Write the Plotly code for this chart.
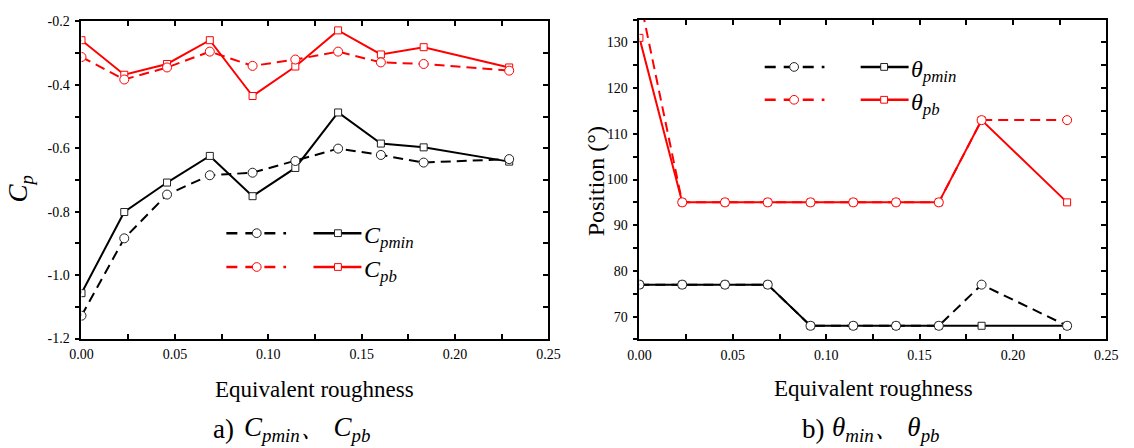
import plotly.graph_objects as go

W, H = 1134, 448

# ---------------- data ----------------
roughness = [0, 0.0229, 0.0458, 0.0687, 0.0916, 0.1145, 0.1374, 0.1603, 0.1832, 0.229]

cpmin_solid = [-1.057, -0.801, -0.708, -0.624, -0.751, -0.662, -0.487, -0.585, -0.597, -0.642]
cpmin_dash = [-1.128, -0.884, -0.746, -0.685, -0.677, -0.640, -0.601, -0.621, -0.645, -0.634]
cpb_solid = [-0.259, -0.368, -0.334, -0.259, -0.435, -0.342, -0.228, -0.304, -0.281, -0.345]
cpb_dash = [-0.312, -0.383, -0.345, -0.295, -0.340, -0.320, -0.295, -0.329, -0.334, -0.355]

thmin_solid = [77, 77, 77, 77, 68, 68, 68, 68, 68, 68]
thmin_dash = [77, 77, 77, 77, 68, 68, 68, 68, 77, 68]
thpb_solid = [131, 95, 95, 95, 95, 95, 95, 95, 113, 95]
thpb_dash = [140, 95, 95, 95, 95, 95, 95, 95, 113, 113]

x_ticks = [0, 0.05, 0.10, 0.15, 0.20, 0.25]
x_ticklabels = ["0.00", "0.05", "0.10", "0.15", "0.20", "0.25"]
cp_ticks = [-1.2, -1.0, -0.8, -0.6, -0.4, -0.2]
cp_ticklabels = ["-1.2", "-1.0", "-0.8", "-0.6", "-0.4", "-0.2"]
th_ticks = [70, 80, 90, 100, 110, 120, 130]

RED = "#ff0000"
BLK = "#000000"
FONT = "Liberation Serif"


def px(x):
    return x / W


def py(y):
    return 1 - y / H


fig = go.Figure()


def add_series(xa, ya, xs, ys, color, dashed, symbol, size):
    fig.add_trace(go.Scatter(
        x=xs, y=ys, xaxis=xa, yaxis=ya, mode="lines+markers",
        line=dict(color=color, width=2, dash="10px,6px" if dashed else "solid"),
        marker=dict(symbol=symbol, size=size, color="white",
                    line=dict(color=color if color == RED else "#222222", width=1)),
        showlegend=False, cliponaxis=True,
    ))


add_series("x", "y", roughness, cpmin_solid, BLK, False, "square", 7)
add_series("x", "y", roughness, cpmin_dash, BLK, True, "circle", 9)
add_series("x", "y", roughness, cpb_solid, RED, False, "square", 7)
add_series("x", "y", roughness, cpb_dash, RED, True, "circle", 9)

add_series("x2", "y2", roughness, thmin_solid, BLK, False, "square", 7)
add_series("x2", "y2", roughness, thmin_dash, BLK, True, "circle", 9)
add_series("x2", "y2", roughness, thpb_solid, RED, False, "square", 7)
add_series("x2", "y2", roughness, thpb_dash, RED, True, "circle", 9)

# domains from pixel positions
L_dom_x = [px(71), px(548)]
L_dom_y = [py(343), py(15)]
R_dom_x = [px(641), px(1118)]
R_dom_y = [py(344), py(13)]

tickfont = dict(family=FONT, size=14, color="black")

xcommon = dict(range=[0, 0.25], tickvals=x_ticks, ticktext=x_ticklabels,
               ticks="inside", ticklen=5, tickwidth=1.5, tickcolor="black",
               showline=True, linewidth=2, linecolor="black", mirror="ticks",
               showgrid=False, zeroline=False, tickfont=tickfont,
               ticklabelstandoff=2,
               minor=dict(dtick=0.025, ticks="inside", ticklen=5, tickwidth=1.5,
                          tickcolor="black", showgrid=False))

ycommon = dict(ticks="outside", ticklen=4, tickwidth=1.5, tickcolor="black",
               showline=True, linewidth=2, linecolor="black", mirror=False,
               showgrid=False, zeroline=False, tickfont=tickfont,
               ticklabelstandoff=3)

fig.update_layout(
    width=W, height=H, margin=dict(l=0, r=0, t=0, b=0),
    paper_bgcolor="white", plot_bgcolor="white", showlegend=False,
    font=dict(family=FONT, color="black"),
    xaxis=dict(domain=L_dom_x, anchor="y", **xcommon),
    xaxis2=dict(domain=R_dom_x, anchor="y2", **xcommon),
    yaxis=dict(domain=L_dom_y, anchor="x", range=[-1.2, -0.2],
               tickvals=cp_ticks, ticktext=cp_ticklabels,
               minor=dict(dtick=0.1, ticks="outside", ticklen=4, tickwidth=1.5,
                          tickcolor="black", showgrid=False), **ycommon),
    yaxis3=dict(overlaying="y", anchor="x", side="right", range=[-1.2, -0.2],
                tickvals=cp_ticks, showticklabels=False,
                ticks="inside", ticklen=5, tickwidth=1.5, tickcolor="black",
                showline=True, linewidth=2, linecolor="black",
                showgrid=False, zeroline=False,
                minor=dict(dtick=0.1, ticks="inside", ticklen=5, tickwidth=1.5,
                           tickcolor="black", showgrid=False)),
    yaxis2=dict(domain=R_dom_y, anchor="x2", range=[65, 135],
                tickvals=th_ticks,
                minor=dict(dtick=5, ticks="outside", ticklen=4, tickwidth=1.5,
                           tickcolor="black", showgrid=False), **ycommon),
    yaxis4=dict(overlaying="y2", anchor="x2", side="right", range=[65, 135],
                tickvals=th_ticks, showticklabels=False,
                ticks="inside", ticklen=5, tickwidth=1.5, tickcolor="black",
                showline=True, linewidth=2, linecolor="black",
                showgrid=False, zeroline=False,
                minor=dict(dtick=5, ticks="inside", ticklen=5, tickwidth=1.5,
                           tickcolor="black", showgrid=False)),
)

# invisible traces to make overlay axes render
fig.add_trace(go.Scatter(x=[None], y=[None], xaxis="x", yaxis="y3", showlegend=False))
fig.add_trace(go.Scatter(x=[None], y=[None], xaxis="x2", yaxis="y4", showlegend=False))

ann = []


def text(x, y, s, size, angle=0, xanchor="center", italic=False):
    ann.append(dict(x=px(x), y=py(y), xref="paper", yref="paper", text=s,
                    showarrow=False, textangle=angle, xanchor=xanchor, yanchor="middle",
                    font=dict(family=FONT, size=size, color="black",
                              style="italic" if italic else "normal")))


text(309, 396, "Equivalent roughness", 23)
text(880, 395, "Equivalent roughness", 23)
text(8, 188, "C<sub>p</sub>", 27, angle=-90, italic=True)
text(597, 180, "Position (°)", 24, angle=-90)
text(203, 437, "a)", 27, xanchor="left")
text(235, 437, "C<sub>pmin</sub>、 C<sub>pb</sub>", 27, xanchor="left", italic=True)
text(805, 437, "b)", 27, xanchor="left")
text(836, 437, "θ<sub>min</sub>、 θ<sub>pb</sub>", 27, xanchor="left", italic=True)

# legends
shapes = []


def legend_row(x_dash0, x_dash1, x_circ, x_sol0, x_sol1, x_sq, y, color, label, label_x):
    shapes.append(dict(type="line", xref="paper", yref="paper",
                       x0=px(x_dash0), x1=px(x_dash1), y0=py(y), y1=py(y),
                       line=dict(color=color, width=2.5, dash="11px,8px")))
    r = 4.5
    shapes.append(dict(type="circle", xref="paper", yref="paper",
                       x0=px(x_circ - r), x1=px(x_circ + r), y0=py(y + r), y1=py(y - r),
                       fillcolor="white", line=dict(color=color if color == RED else "#222222", width=1)))
    shapes.append(dict(type="line", xref="paper", yref="paper",
                       x0=px(x_sol0), x1=px(x_sol1), y0=py(y), y1=py(y),
                       line=dict(color=color, width=2.5)))
    s = 3.5
    shapes.append(dict(type="rect", xref="paper", yref="paper",
                       x0=px(x_sq - s), x1=px(x_sq + s), y0=py(y + s), y1=py(y - s),
                       fillcolor="white", line=dict(color=color if color == RED else "#222222", width=1)))
    text(label_x, y + 4, label, 24, xanchor="left", italic=True)


legend_row(219, 280, 250, 308, 357, 333, 234, BLK, "C<sub>pmin</sub>", 358)
legend_row(219, 280, 250, 308, 357, 333, 269, RED, "C<sub>pb</sub>", 358)
legend_row(769, 830, 799, 867, 916, 891, 62, BLK, "θ<sub>pmin</sub>", 916)
legend_row(769, 830, 799, 867, 916, 891, 96, RED, "θ<sub>pb</sub>", 916)

fig.update_layout(annotations=ann, shapes=shapes)

fig.write_html("out.html")
